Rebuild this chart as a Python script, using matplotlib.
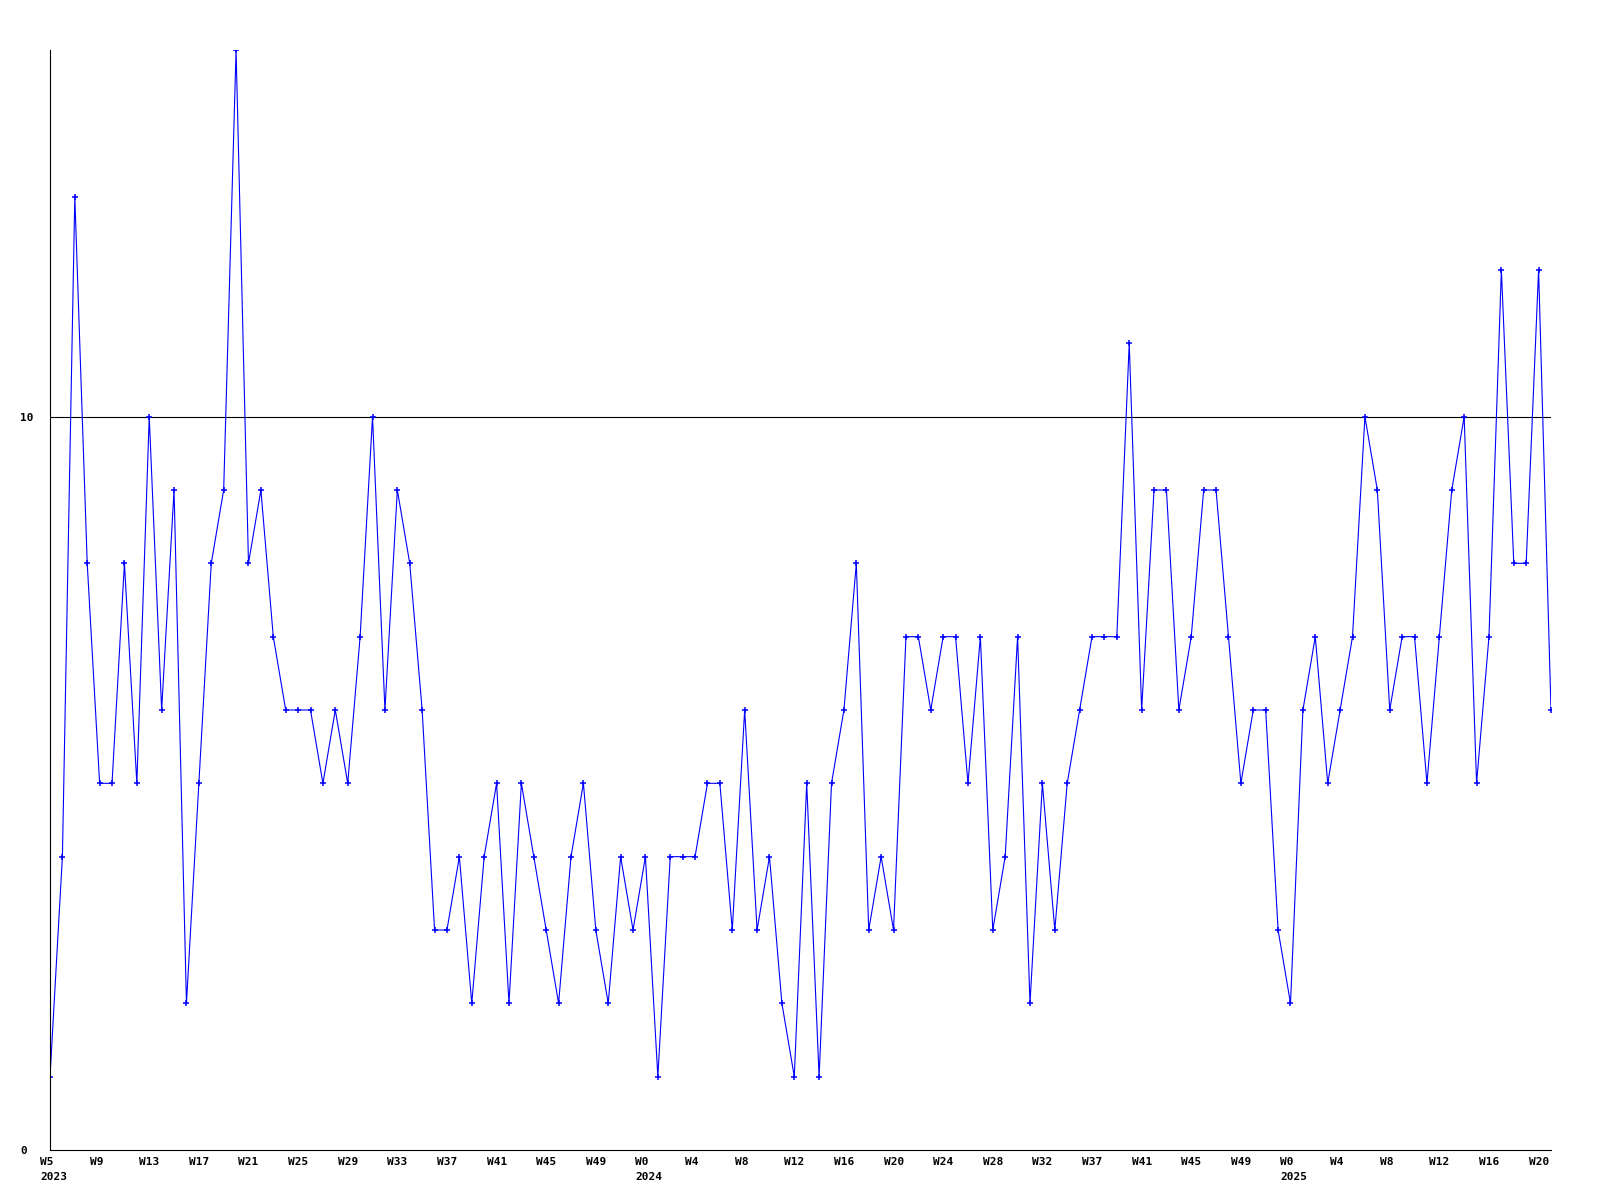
import matplotlib
matplotlib.use('Agg')
import matplotlib.pyplot as plt
from matplotlib.transforms import offset_copy

# weekly counts, W5 2023 .. W21 2025
values = [1, 4, 13, 8, 5, 5, 8, 5, 10, 6, 9, 2, 5, 8, 9, 15, 8, 9, 7, 6,
          6, 6, 5, 6, 5, 7, 10, 6, 9, 8, 6, 3, 3, 4, 2, 4, 5, 2, 5, 4,
          3, 2, 4, 5, 3, 2, 4, 3, 4, 1, 4, 4, 4, 5, 5, 3, 6, 3, 4, 2,
          1, 5, 1, 5, 6, 8, 3, 4, 3, 7, 7, 6, 7, 7, 5, 7, 3, 4, 7, 2,
          5, 3, 5, 6, 7, 7, 7, 11, 6, 9, 9, 6, 7, 9, 9, 7, 5, 6, 6, 3,
          2, 6, 7, 5, 6, 7, 10, 9, 6, 7, 7, 5, 7, 9, 10, 5, 7, 12, 8, 8,
          12, 6]

# x labels every 4th week
tick_weeks = ['W5', 'W9', 'W13', 'W17', 'W21', 'W25', 'W29', 'W33', 'W37', 'W41', 'W45', 'W49',
              'W0', 'W4', 'W8', 'W12', 'W16', 'W20', 'W24', 'W28', 'W32', 'W37', 'W41', 'W45', 'W49',
              'W0', 'W4', 'W8', 'W12', 'W16', 'W20']
tick_years = ['2023'] + [''] * 11 + ['2024'] + [''] * 12 + ['2025'] + [''] * 5

y_ticks = [0, 10]

plt.rcParams['font.family'] = 'DejaVu Sans Mono'
plt.rcParams['font.weight'] = 'bold'
plt.rcParams['font.size'] = 8

fig = plt.figure(figsize=(16, 12), dpi=100)
ax = fig.add_axes([50 / 1600, 50 / 1200, 1501 / 1600, 1100 / 1200])

x = list(range(len(values)))
ax.plot(x, values, color='#0000ff', lw=0.8, marker='+', ms=4, mew=1.1)
ax.axhline(10, color='black', lw=0.8, zorder=1)

ax.set_xlim(0, len(values) - 1)
ax.set_ylim(0, 15)

# week / year labels, left aligned a bit before the point
tick_pos = list(range(0, len(values), 4))
ax.set_xticks(tick_pos)
ax.set_xticklabels([])
base = ax.get_xaxis_transform()
week_tr = offset_copy(base, fig=fig, x=-10, y=-12, units='dots')
year_tr = offset_copy(base, fig=fig, x=-10, y=-27, units='dots')
for p, w, yr in zip(tick_pos, tick_weeks, tick_years):
    ax.text(p, 0, w, transform=week_tr, ha='left', va='center', clip_on=False)
    if yr:
        ax.text(p, 0, yr, transform=year_tr, ha='left', va='center', clip_on=False)

# y labels start at the same x, left aligned
ax.set_yticks(y_ticks)
ax.set_yticklabels([str(v) for v in y_ticks], ha='left')
ax.tick_params(axis='x', length=0)
ax.tick_params(axis='y', length=0, pad=21.5)

ax.spines['top'].set_visible(False)
ax.spines['right'].set_visible(False)
ax.spines['left'].set_linewidth(0.8)
ax.spines['bottom'].set_linewidth(0.8)

fig.savefig('out.png', dpi=100)
